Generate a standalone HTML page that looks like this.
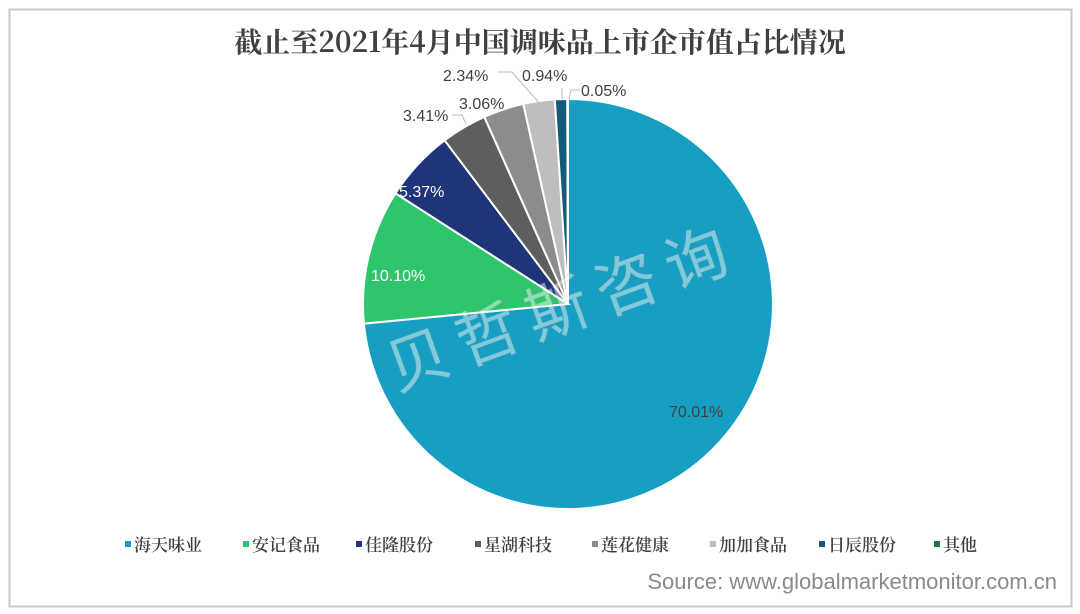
<!DOCTYPE html>
<html><head><meta charset="utf-8"><style>
body{margin:0;background:#fff;width:1080px;height:614px;overflow:hidden}
svg{display:block}
</style></head><body>
<svg width="1080" height="614" xmlns="http://www.w3.org/2000/svg" font-family="Liberation Sans, Noto Sans CJK SC, sans-serif">
<rect x="0" y="0" width="1080" height="614" fill="#fff"/>
<rect x="9.5" y="9.5" width="1062" height="597" fill="none" stroke="#c8c8c8" stroke-width="2"/>
<text x="540" y="52" text-anchor="middle" font-size="28" font-weight="bold" fill="#404040" font-family="Noto Serif CJK SC, serif">截止至2021年4月中国调味品上市企市值占比情况</text>
<g stroke="#fff" stroke-width="2">
<path d="M568,304 L568,99 A205,205 0 1,1 363.9,323.6 Z" fill="#169fc2"/>
<path d="M568,304 L363.9,323.6 A205,205 0 0,1 395.5,193.3 Z" fill="#2fc56c"/>
<path d="M568,304 L395.5,193.3 A205,205 0 0,1 444.6,140.3 Z" fill="#1f3479"/>
<path d="M568,304 L444.6,140.3 A205,205 0 0,1 484.3,116.9 Z" fill="#5e5e5e"/>
<path d="M568,304 L484.3,116.9 A205,205 0 0,1 523.3,103.9 Z" fill="#8c8c8c"/>
<path d="M568,304 L523.3,103.9 A205,205 0 0,1 554.8,99.4 Z" fill="#bebebe"/>
<path d="M568,304 L554.8,99.4 A205,205 0 0,1 567.3,99 Z" fill="#135c77"/>
<path d="M568,304 L567.3,99 A205,205 0 0,1 568,99 Z" fill="#1e7a44"/>
</g>
<g fill="none" stroke="#bbb" stroke-width="1">
<polyline points="498,72 512,72 540,104"/>
<polyline points="562,88 562,99"/>
<polyline points="580,90 571,90 569,99"/>
<polyline points="452,115 462,115 466,124"/>
</g>
<g font-size="16" fill="#404040">
<text x="443" y="81">2.34%</text>
<text x="522" y="81">0.94%</text>
<text x="581" y="96">0.05%</text>
<text x="459" y="109">3.06%</text>
<text x="403" y="121">3.41%</text>
<text x="669" y="417">70.01%</text>
</g>
<g font-size="16" fill="#fff">
<text x="399" y="197">5.37%</text>
<text x="371" y="281">10.10%</text>
</g>
<text x="560" y="330" text-anchor="middle" font-size="62" fill="#ffffff" fill-opacity="0.45" stroke="#aaa" stroke-opacity="0.25" stroke-width="1" transform="rotate(-20 560 300)" font-family="Noto Sans CJK SC, sans-serif" letter-spacing="12">贝哲斯咨询</text>
<g font-size="17" font-weight="600" fill="#404040" font-family="Noto Serif CJK SC, serif">
<rect x="125" y="541" width="6" height="6" fill="#169fc2"/><text x="134" y="551">海天味业</text>
<rect x="243" y="541" width="6" height="6" fill="#2fc56c"/><text x="252" y="551">安记食品</text>
<rect x="356" y="541" width="6" height="6" fill="#1f3479"/><text x="365" y="551">佳隆股份</text>
<rect x="475" y="541" width="6" height="6" fill="#5e5e5e"/><text x="484" y="551">星湖科技</text>
<rect x="592" y="541" width="6" height="6" fill="#8c8c8c"/><text x="601" y="551">莲花健康</text>
<rect x="710" y="541" width="6" height="6" fill="#bebebe"/><text x="719" y="551">加加食品</text>
<rect x="819" y="541" width="6" height="6" fill="#135c77"/><text x="828" y="551">日辰股份</text>
<rect x="934" y="541" width="6" height="6" fill="#1e7a44"/><text x="943" y="551">其他</text>
</g>
<text x="1057" y="589" text-anchor="end" font-size="22" fill="#8a8a8a">Source: www.globalmarketmonitor.com.cn</text>
</svg>
</body></html>
